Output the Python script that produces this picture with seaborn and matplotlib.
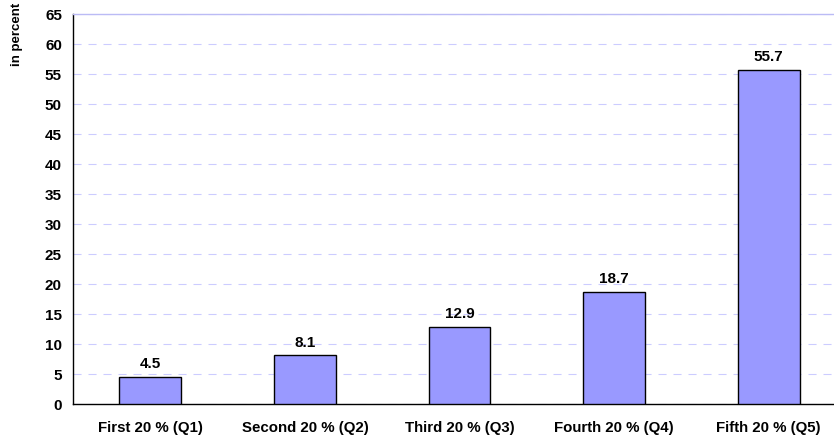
import matplotlib
matplotlib.use("Agg")
import matplotlib.pyplot as plt
import seaborn as sns
import pandas as pd
import numpy as np

categories = ["First 20 % (Q1)", "Second 20 % (Q2)", "Third 20 % (Q3)",
              "Fourth 20 % (Q4)", "Fifth 20 % (Q5)"]
shares = [4.5, 8.1, 12.9, 18.7, 55.7]
y_ticks = list(range(0, 70, 5))

sns.set_style("white")
plt.rcParams["font.family"] = ["Liberation Sans", "DejaVu Sans"]
plt.rcParams["font.weight"] = "bold"
plt.rcParams["text.color"] = "black"
plt.rcParams["xtick.color"] = "black"
plt.rcParams["ytick.color"] = "black"
plt.rcParams["axes.labelcolor"] = "black"
plt.rcParams["lines.scale_dashes"] = False

df = pd.DataFrame({"quintile": categories, "share": shares})

fig = plt.figure(figsize=(8.34, 4.43), dpi=100)
ax = fig.add_axes([73 / 834, 1 - 404 / 443, (846 - 73) / 834, (404 - 14) / 443])

sns.barplot(data=df, x="quintile", y="share", color="#9999FF", width=0.4,
            edgecolor="black", linewidth=1.0, saturation=1, ax=ax, zorder=3)

ax.set_ylim(0, 65)
ax.set_xlim(-0.5, len(categories) - 0.5)
ax.set_yticks(y_ticks)
ax.set_yticklabels([str(v) for v in y_ticks], fontsize=11, fontweight="bold")

# category labels centred, tick marks at category boundaries
ax.set_xticks(np.arange(len(categories)))
ax.set_xticklabels(categories, fontsize=10.8, fontweight="bold")
ax.set_xticks(np.arange(-0.5, len(categories), 1.0), minor=True)
ax.tick_params(axis="x", which="major", length=0, pad=12)
ax.tick_params(axis="x", which="minor", length=5, width=1, color="black", direction="out")
ax.tick_params(axis="y", length=5, width=1, color="black", direction="out", pad=3)

ax.yaxis.grid(True, linestyle=(0, (5.8, 5.0)), color="#CCCCFF", linewidth=0.8, zorder=0)
ax.xaxis.grid(False)
ax.set_axisbelow(True)

for side in ["left", "bottom"]:
    ax.spines[side].set_color("black")
    ax.spines[side].set_linewidth(1.0)
ax.spines["right"].set_visible(False)
ax.spines["top"].set_color("#BBBBF5")
ax.spines["top"].set_linewidth(1.0)

ax.set_xlabel("")
ax.set_ylabel("")
fig.text(17 / 834, 1 - 3 / 443, "in percent", rotation=90, ha="center", va="top",
         fontsize=9.5, fontweight="bold")

for i, v in enumerate(shares):
    ax.annotate(f"{v:.1f}", (i, v), xytext=(0, 4), textcoords="offset points",
                ha="center", va="bottom", fontsize=11, fontweight="bold")

fig.savefig("out.png", dpi=100)
